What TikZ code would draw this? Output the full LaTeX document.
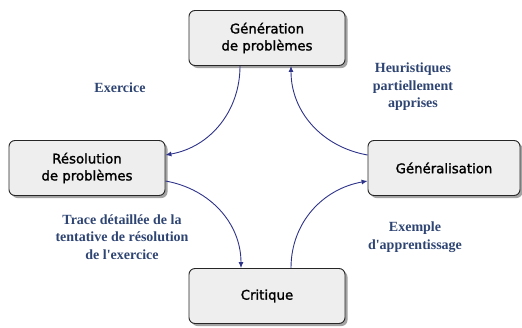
\documentclass[tikz,border=0pt]{standalone}
\usepackage{fontspec}
\newfontfamily\lblfont{Liberation Serif}
\newfontfamily\boxfont{DejaVu Sans}[FakeBold=1.5]
\usetikzlibrary{arrows.meta,shadows}
\definecolor{arrowblue}{HTML}{2E338A}
\definecolor{labelblue}{HTML}{2E4472}
\definecolor{boxfill}{HTML}{EEEEEE}
\tikzset{
  procbox/.style={draw=black!85, line width=0.9pt, fill=boxfill, rounded corners=6pt,
    minimum width=156pt, minimum height=55pt, align=center,
    font=\boxfont\fontsize{13.3}{17}\selectfont,
    drop shadow={shadow xshift=2.5pt, shadow yshift=-2.5pt, fill=black!45, opacity=0.8}},
  flow/.style={draw=arrowblue, line width=0.9pt, -{Latex[length=6pt,width=5pt]}},
  lbl/.style={text=labelblue, align=center, font=\lblfont\bfseries\fontsize{14}{17.5}\selectfont}
}
\begin{document}
\begin{tikzpicture}[x=1pt,y=-1pt]
\useasboundingbox (0,0) rectangle (522,327);
\node[procbox] (gen) at (267,38) {Génération\\de problèmes};
\node[procbox] (res) at (87,168) {Résolution\\de problèmes};
\node[procbox, minimum width=152pt] (gnl) at (444,168) {Généralisation};
\node[procbox] (cri) at (267,296) {Critique};

\draw[flow] ([xshift=-27pt]gen.south) to[out=-90,in=10] ([yshift=13pt]res.east);
\draw[flow] ([yshift=-13pt]res.east) to[out=-10,in=90] ([xshift=-26pt]cri.north);
\draw[flow] ([xshift=24pt]cri.north) to[out=90,in=190] ([yshift=-13pt]gnl.west);
\draw[flow] ([yshift=13pt]gnl.west) to[out=170,in=-90] ([xshift=24pt]gen.south);

\node[lbl] (l1) at (120,88) {Exercice};
\node[lbl] (l2) at (413,87) {Heuristiques\\partiellement\\apprises};
\node[lbl] (l3) at (122,237) {Trace détaillée de la\\tentative de résolution\\de l'exercice};
\node[lbl] (l4) at (415,237) {Exemple\\d'apprentissage};
\end{tikzpicture}
\end{document}
